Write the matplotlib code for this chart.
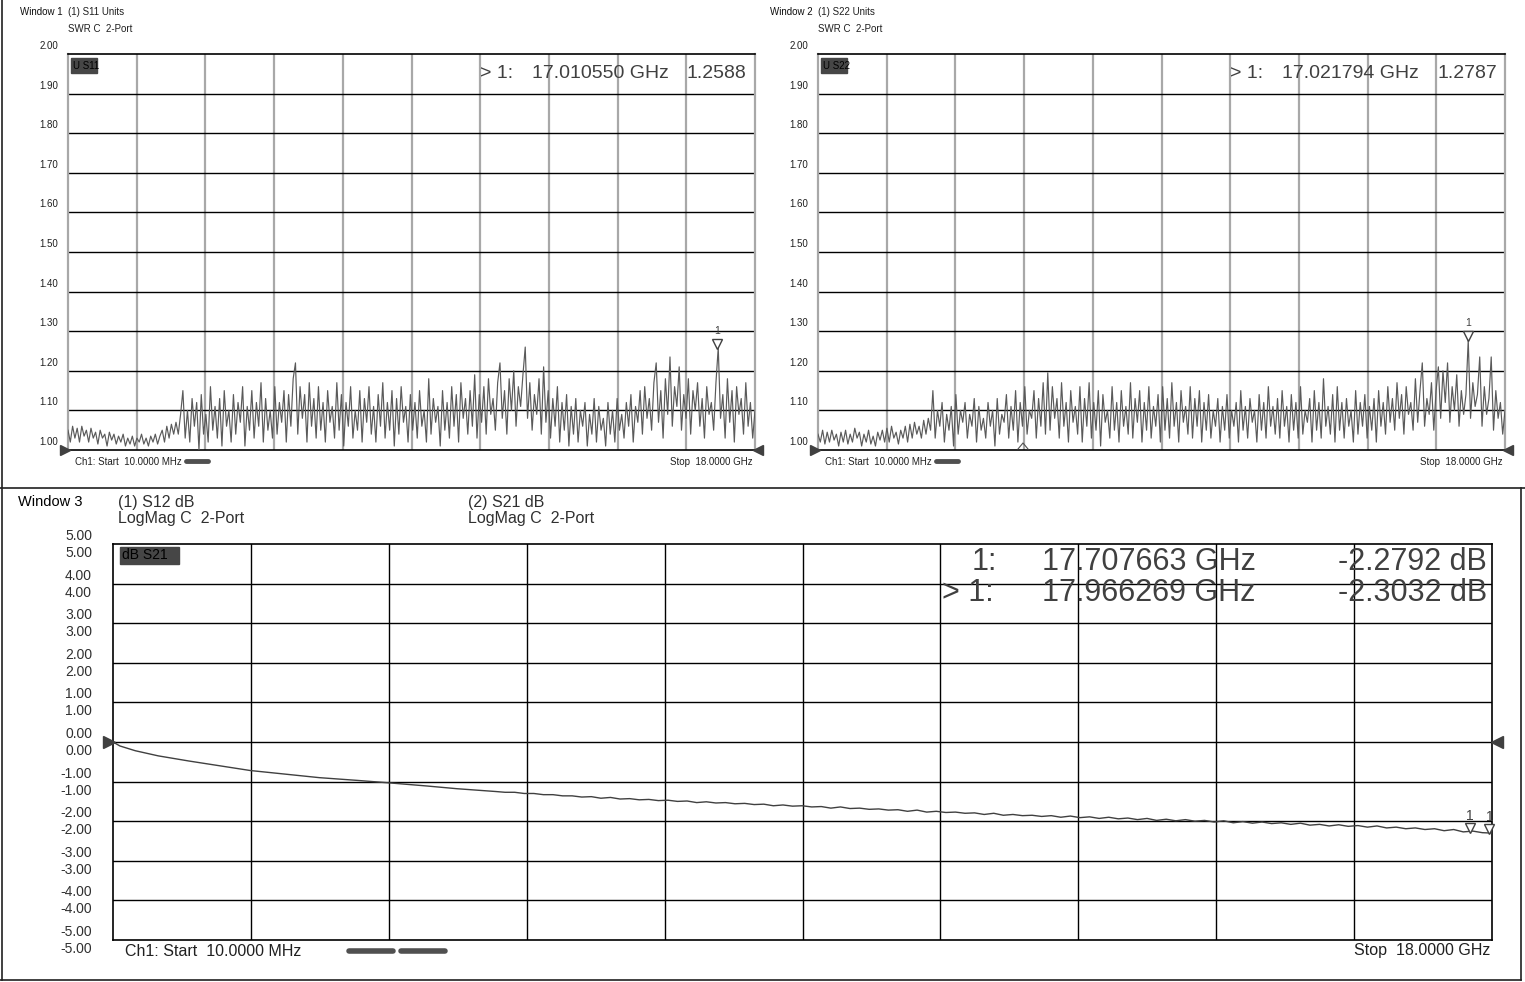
import numpy as np
import matplotlib
matplotlib.use("Agg")
import matplotlib.pyplot as plt
from matplotlib.transforms import offset_copy

W, H = 1525, 982
NARROW = ['Liberation Sans Narrow', 'Liberation Sans', 'DejaVu Sans']
ARIAL = ['Liberation Sans', 'DejaVu Sans']

# ---------------- data ----------------
f_start, f_stop = 0.01, 18.0  # GHz

s11_swr = [
    1.05,1.02,1.06,1.03,1.055,1.02,1.06,1.035,1.05,1.02,
    1.055,1.03,1.045,1.015,1.05,1.03,1.04,1.01,1.045,1.025,
    1.04,1.015,1.035,1.02,1.04,1.01,1.03,1.015,1.035,1.01,
    1.03,1.02,1.04,1.015,1.03,1.01,1.035,1.02,1.04,1.015,1.035,
    1.05,1.02,1.06,1.03,1.065,1.04,1.07,1.04,1.09,
    1.15,1.03,1.10,1.02,1.13,1.06,1.12,1.00,1.14,1.04,
    1.09,1.02,1.16,1.05,1.11,1.03,1.13,1.01,1.15,1.06,
    1.10,1.02,1.14,1.04,1.12,1.07,1.16,1.01,1.11,1.05,
    1.15,1.03,1.12,1.06,1.17,1.02,1.13,1.05,1.10,1.03,
    1.16,1.04,1.12,1.07,1.15,1.02,1.14,1.06,1.18,1.22,
    1.04,1.16,1.08,1.14,1.02,1.17,1.06,1.13,1.03,1.16,
    1.05,1.12,1.02,1.15,1.07,1.11,1.03,1.17,1.05,1.14,
    1.01,1.12,1.06,1.16,1.03,1.10,1.05,1.15,1.02,1.13,
    1.07,1.16,1.04,1.11,1.02,1.14,1.06,1.17,1.03,1.12,
    1.05,1.15,1.01,1.13,1.04,1.16,1.07,1.11,1.02,1.14,
    1.05,1.12,1.03,1.15,1.06,1.10,1.02,1.18,1.04,1.13,
    1.07,1.11,1.01,1.15,1.05,1.12,1.03,1.16,1.06,1.14,
    1.02,1.17,1.08,1.13,1.04,1.15,1.06,1.19,1.03,1.14,
    1.07,1.16,1.04,1.18,1.09,1.13,1.05,1.17,1.22,1.08,
    1.15,1.04,1.18,1.10,1.20,1.06,1.16,1.11,1.19,1.26,
    1.08,1.17,1.05,1.14,1.09,1.18,1.04,1.21,1.07,1.15,
    1.03,1.13,1.06,1.16,1.02,1.12,1.05,1.14,1.01,1.11,
    1.04,1.13,1.02,1.10,1.06,1.12,1.01,1.09,1.04,1.13,
    1.02,1.11,1.05,1.08,1.01,1.12,1.04,1.10,1.02,1.13,
    1.05,1.09,1.03,1.12,1.06,1.14,1.02,1.11,1.07,1.15,
    1.04,1.16,1.08,1.13,1.05,1.17,1.22,1.07,1.15,1.03,
    1.18,1.09,1.235,1.06,1.16,1.11,1.21,1.05,1.14,1.08,
    1.18,1.04,1.15,1.10,1.17,1.06,1.13,1.03,1.16,1.09,
    1.12,1.05,1.17,1.2588,1.08,1.14,1.03,1.18,1.07,1.15,
    1.02,1.16,1.09,1.13,1.04,1.17,1.06,1.12,1.03,1.10,
]

s22_swr = [
    1.04,1.02,1.05,1.015,1.045,1.02,1.05,1.025,1.04,1.01,
    1.045,1.02,1.05,1.015,1.04,1.02,1.055,1.03,1.045,1.01,
    1.04,1.02,1.05,1.015,1.035,1.01,1.045,1.025,1.05,1.02,
    1.055,1.02,1.06,1.03,1.045,1.015,1.05,1.03,1.06,1.02,
    1.065,1.03,1.07,1.04,1.06,1.03,1.075,1.04,1.08,1.05,
    1.15,1.03,1.10,1.06,1.12,1.02,1.09,1.05,1.11,1.01,
    1.14,1.04,1.10,1.07,1.12,1.03,1.09,1.06,1.13,1.02,
    1.11,1.05,1.08,1.03,1.12,1.06,1.10,1.01,1.13,1.04,
    1.09,1.07,1.14,1.03,1.11,1.05,1.15,1.02,1.12,1.06,
    1.16,1.04,1.10,1.08,1.15,1.03,1.13,1.06,1.17,1.04,
    1.195,1.05,1.16,1.08,1.13,1.03,1.17,1.06,1.12,1.02,
    1.15,1.07,1.11,1.04,1.16,1.02,1.13,1.06,1.17,1.03,
    1.12,1.05,1.15,1.01,1.14,1.07,1.10,1.03,1.16,1.05,
    1.12,1.02,1.15,1.06,1.11,1.04,1.17,1.03,1.13,1.07,
    1.15,1.02,1.12,1.05,1.16,1.03,1.11,1.06,1.14,1.02,
    1.16,1.05,1.13,1.03,1.17,1.06,1.12,1.02,1.15,1.07,
    1.11,1.04,1.16,1.03,1.13,1.06,1.15,1.02,1.12,1.05,
    1.14,1.03,1.10,1.06,1.13,1.02,1.11,1.05,1.14,1.03,
    1.10,1.06,1.12,1.02,1.15,1.05,1.11,1.03,1.13,1.07,
    1.10,1.02,1.14,1.05,1.12,1.03,1.16,1.06,1.11,1.04,
    1.13,1.03,1.15,1.06,1.11,1.02,1.14,1.05,1.12,1.03,
    1.16,1.04,1.10,1.07,1.13,1.02,1.15,1.05,1.12,1.03,
    1.18,1.06,1.11,1.04,1.14,1.02,1.16,1.05,1.12,1.03,
    1.13,1.06,1.10,1.02,1.15,1.04,1.12,1.06,1.14,1.03,
    1.11,1.05,1.13,1.02,1.15,1.06,1.12,1.04,1.16,1.07,
    1.13,1.05,1.17,1.08,1.14,1.04,1.16,1.09,1.12,1.05,
    1.18,1.07,1.15,1.22,1.06,1.13,1.09,1.17,1.05,1.15,
    1.21,1.08,1.20,1.12,1.22,1.07,1.16,1.10,1.19,1.06,
    1.15,1.09,1.14,1.2787,1.08,1.17,1.11,1.14,1.235,1.06,
    1.16,1.09,1.13,1.235,1.05,1.15,1.08,1.12,1.04,1.10,
]

s21_freq = [0.01, 0.1, 0.3, 0.6, 1.0, 1.4, 1.8, 2.3, 2.7, 3.2, 3.6, 4.1, 4.5,
            5.000, 5.125, 5.250, 5.375, 5.500, 5.625, 5.750, 5.875,
            6.000, 6.125, 6.250, 6.375, 6.500, 6.625, 6.750, 6.875,
            7.000, 7.125, 7.250, 7.375, 7.500, 7.625, 7.750, 7.875,
            8.000, 8.125, 8.250, 8.375, 8.500, 8.625, 8.750, 8.875,
            9.000, 9.125, 9.250, 9.375, 9.500, 9.625, 9.750, 9.875,
            10.000, 10.125, 10.250, 10.375, 10.500, 10.625, 10.750, 10.875,
            11.000, 11.125, 11.250, 11.375, 11.500, 11.625, 11.750, 11.875,
            12.000, 12.125, 12.250, 12.375, 12.500, 12.625, 12.750, 12.875,
            13.000, 13.125, 13.250, 13.375, 13.500, 13.625, 13.750, 13.875,
            14.000, 14.125, 14.250, 14.375, 14.500, 14.625, 14.750, 14.875,
            15.000, 15.125, 15.250, 15.375, 15.500, 15.625, 15.750, 15.875,
            16.000, 16.125, 16.250, 16.375, 16.500, 16.625, 16.750, 16.875,
            17.000, 17.125, 17.250, 17.375, 17.500, 17.625, 17.750, 17.875, 18.000]
s21_db = [0.0, -0.1, -0.22, -0.35, -0.48, -0.6, -0.72, -0.82, -0.9, -0.97, -1.03, -1.11, -1.18,
          -1.25, -1.27, -1.27, -1.30, -1.30, -1.33, -1.33, -1.36,
          -1.36, -1.39, -1.38, -1.42, -1.40, -1.44, -1.43, -1.46,
          -1.45, -1.48, -1.47, -1.50, -1.49, -1.53, -1.51, -1.54,
          -1.53, -1.56, -1.55, -1.58, -1.57, -1.61, -1.59, -1.62,
          -1.61, -1.64, -1.63, -1.67, -1.64, -1.68, -1.67, -1.70,
          -1.69, -1.72, -1.71, -1.75, -1.72, -1.77, -1.75, -1.78,
          -1.77, -1.80, -1.79, -1.83, -1.80, -1.85, -1.83, -1.86,
          -1.85, -1.88, -1.86, -1.90, -1.87, -1.91, -1.89, -1.93,
          -1.90, -1.94, -1.92, -1.96, -1.93, -1.98, -1.95, -1.99,
          -1.96, -2.00, -1.98, -2.02, -1.99, -2.04, -2.01, -2.05,
          -2.02, -2.06, -2.04, -2.08, -2.05, -2.10, -2.08, -2.12,
          -2.09, -2.13, -2.11, -2.15, -2.12, -2.17, -2.15, -2.19,
          -2.17, -2.21, -2.19, -2.24, -2.21, -2.27, -2.25, -2.29, -2.30]

swr_ticks = [2.00, 1.90, 1.80, 1.70, 1.60, 1.50, 1.40, 1.30, 1.20, 1.10, 1.00]
swr_tick_labels = ["2.00", "1.90", "1.80", "1.70", "1.60", "1.50", "1.40", "1.30", "1.20", "1.10", "1.00"]
db_ticks = [5, 4, 3, 2, 1, 0, -1, -2, -3, -4, -5]
db_tick_labels = ["5.00", "4.00", "3.00", "2.00", "1.00", "0.00", "-1.00", "-2.00", "-3.00", "-4.00", "-5.00"]

mk1 = (17.010550, 1.2588)
mk2 = (17.021794, 1.2787)
mk3 = [(17.707663, -2.2792), (17.966269, -2.3032)]

# ---------------- figure ----------------
fig = plt.figure(figsize=(W / 100, H / 100), dpi=100)
fig.patch.set_facecolor('white')


def add_px_axes(l, t, r, b):
    return fig.add_axes([l / W, 1 - b / H, (r - l) / W, (b - t) / H])


def style_swr(ax):
    ax.set_xlim(f_start, f_stop)
    ax.set_ylim(1.0, 2.0)
    xt = np.linspace(f_start, f_stop, 11)
    for x in xt[1:-1]:
        ax.axvline(x, color='#a8a8a8', lw=1.6, zorder=1)
    for y in swr_ticks[1:-1]:
        ax.axhline(y, color='black', lw=1.0, zorder=1)
    ax.set_xticks([]); ax.set_yticks([])
    for s in ['top', 'bottom']:
        ax.spines[s].set_color('black'); ax.spines[s].set_linewidth(1.2)
    for s in ['left', 'right']:
        ax.spines[s].set_color('#a8a8a8'); ax.spines[s].set_linewidth(1.6)
    tr = offset_copy(ax.get_yaxis_transform(), fig=fig, x=-10, y=8, units='dots')
    for v, lab in zip(swr_ticks, swr_tick_labels):
        ax.text(0, v, lab, transform=tr, ha='right', va='center', fontsize=7,
                family=NARROW, color='#202020')


ax1 = add_px_axes(68, 54, 755, 450)
ax2 = add_px_axes(818, 54, 1505, 450)
ax3 = add_px_axes(113, 544, 1492, 940)

for ax, vals, mk in [(ax1, s11_swr, mk1), (ax2, s22_swr, mk2)]:
    style_swr(ax)
    fr = np.linspace(f_start, f_stop, len(vals))
    ax.plot(fr, vals, color='#5a5a5a', lw=0.85, zorder=3)
    trm = offset_copy(ax.transData, fig=fig, x=0, y=4, units='dots')
    ax.plot([mk[0]], [mk[1]], marker='v', ms=7, mfc='white', mec='#404040', mew=1.0,
            transform=trm, clip_on=False, zorder=5)
    trt = offset_copy(ax.transData, fig=fig, x=0, y=17, units='dots')
    ax.text(mk[0], mk[1], "1", transform=trt, ha='center', va='center', fontsize=7.5,
            family=NARROW, color='#404040')

# window 3
ax3.set_xlim(f_start, f_stop)
ax3.set_ylim(-5, 5)
for x in np.linspace(f_start, f_stop, 11)[1:-1]:
    ax3.axvline(x, color='black', lw=1.0, zorder=1)
for y in db_ticks[1:-1]:
    ax3.axhline(y, color='black', lw=1.0, zorder=1)
ax3.set_xticks([]); ax3.set_yticks([])
for s in ax3.spines.values():
    s.set_color('black'); s.set_linewidth(1.2)
ax3.plot(s21_freq, s21_db, color='#404040', lw=1.0, zorder=3)
tr_up = offset_copy(ax3.get_yaxis_transform(), fig=fig, x=-21, y=8, units='dots')
tr_dn = offset_copy(ax3.get_yaxis_transform(), fig=fig, x=-21, y=-9, units='dots')
for v, lab in zip(db_ticks, db_tick_labels):
    ax3.text(0, v, lab, transform=tr_up, ha='right', va='center', fontsize=10,
             family=ARIAL, color='#303030')
    ax3.text(0, v, lab, transform=tr_dn, ha='right', va='center', fontsize=10,
             family=ARIAL, color='#303030')
for fm, vm in mk3:
    trm = offset_copy(ax3.transData, fig=fig, x=0, y=4, units='dots')
    ax3.plot([fm], [vm], marker='v', ms=7, mfc='white', mec='#404040', mew=1.0,
             transform=trm, clip_on=False, zorder=5)
    trt = offset_copy(ax3.transData, fig=fig, x=0, y=16, units='dots')
    ax3.text(fm, vm, "1", transform=trt, ha='center', va='center', fontsize=10,
             family=ARIAL, color='#404040')

# ---------------- overlay (pixel coordinates) ----------------
ov = fig.add_axes([0, 0, 1, 1], zorder=10)
ov.set_xlim(0, W); ov.set_ylim(H, 0); ov.axis('off')
ov.patch.set_alpha(0)

# frames
ov.plot([2, 2], [0, 980], color='#202020', lw=1.2)
ov.plot([0, W], [488, 488], color='#202020', lw=1.2)
ov.plot([0, 1521], [980, 980], color='#202020', lw=1.2)
ov.plot([1521, 1521], [488, 980], color='#202020', lw=1.2)

SM = 7
# headers windows 1 & 2
for x0, xw, wname, sname in [(68, 20, "Window 1", "S11"), (818, 770, "Window 2", "S22")]:
    ov.text(xw, 12, wname, fontsize=SM, family=NARROW, ha='left', va='center', color='#101010')
    ov.text(x0, 12, "(1) %s Units" % sname, fontsize=SM, family=NARROW, ha='left', va='center', color='#202020')
    ov.text(x0, 29, "SWR C  2-Port", fontsize=SM, family=NARROW, ha='left', va='center', color='#202020')
    ov.add_patch(plt.Rectangle((x0 + 3, 58), 26, 15, color='#464646', zorder=4))
    ov.text(x0 + 5, 66, "U %s" % sname, fontsize=SM, family=NARROW, ha='left', va='center', color='black', zorder=5)
    ov.text(x0 + 7, 462, "Ch1: Start  10.0000 MHz", fontsize=SM, family=NARROW, ha='left', va='center', color='#202020')
    ov.text(x0 + 685, 462, "Stop  18.0000 GHz", fontsize=SM, family=NARROW, ha='right', va='center', color='#202020')
    ov.plot([x0 + 118, x0 + 140], [461, 461], color='#505050', lw=3.5, solid_capstyle='round')
    # reference triangles
    ov.plot([x0 - 3], [450], marker='>', ms=7, color='#404040', clip_on=False)
    ov.plot([x0 + 690], [450], marker='<', ms=7, color='#404040', clip_on=False)

# readouts windows 1 & 2
RD = 14
for xa, fstr, vstr, xr in [(480, "17.010550", "1.2588", 746), (1230, "17.021794", "1.2787", 1497)]:
    ov.text(xa, 73, "> 1:", fontsize=RD, family=NARROW, ha='left', va='center', color='#404040')
    ov.text(xa + 52, 73, fstr + " GHz", fontsize=RD, family=NARROW, ha='left', va='center', color='#404040')
    ov.text(xr, 73, vstr, fontsize=RD, family=NARROW, ha='right', va='center', color='#404040')

# small caret marker in window 2
ov.plot([1018, 1023, 1028], [449, 443, 449], color='#505050', lw=0.8)

# window 3 headers
ov.text(18, 502, "Window 3", fontsize=10.5, family=ARIAL, ha='left', va='center', color='black')
ov.text(118, 502, "(1) S12 dB", fontsize=11.5, family=ARIAL, ha='left', va='center', color='#303030')
ov.text(118, 519, "LogMag C  2-Port", fontsize=11.5, family=ARIAL, ha='left', va='center', color='#303030')
ov.text(468, 502, "(2) S21 dB", fontsize=11.5, family=ARIAL, ha='left', va='center', color='#303030')
ov.text(468, 519, "LogMag C  2-Port", fontsize=11.5, family=ARIAL, ha='left', va='center', color='#303030')
ov.add_patch(plt.Rectangle((120, 547), 59, 17, color='#464646', zorder=4))
ov.text(122, 555, "dB S21", fontsize=10, family=ARIAL, ha='left', va='center', color='black', zorder=5)

BR = 22
for yy, pre, xpre, fstr, vstr in [(562, "1:", 972, "17.707663 GHz", "-2.2792 dB"),
                                  (593, "> 1:", 942, "17.966269 GHz", "-2.3032 dB")]:
    ov.text(xpre, yy, pre, fontsize=BR, family=ARIAL, ha='left', va='center', color='#404040')
    ov.text(1042, yy, fstr, fontsize=BR, family=ARIAL, ha='left', va='center', color='#404040')
    ov.text(1487, yy, vstr, fontsize=BR, family=ARIAL, ha='right', va='center', color='#404040')

ov.text(125, 951, "Ch1: Start  10.0000 MHz", fontsize=11.5, family=ARIAL, ha='left', va='center', color='#202020')
ov.text(1490, 951, "Stop  18.0000 GHz", fontsize=11.5, family=ARIAL, ha='right', va='center', color='#202020')
ov.plot([349, 393], [951, 951], color='#505050', lw=4, solid_capstyle='round')
ov.plot([401, 445], [951, 951], color='#505050', lw=4, solid_capstyle='round')
ov.plot([109], [742], marker='>', ms=8, color='#404040', clip_on=False)
ov.plot([1497], [742], marker='<', ms=8, color='#404040', clip_on=False)

fig.savefig("out.png", dpi=100)
